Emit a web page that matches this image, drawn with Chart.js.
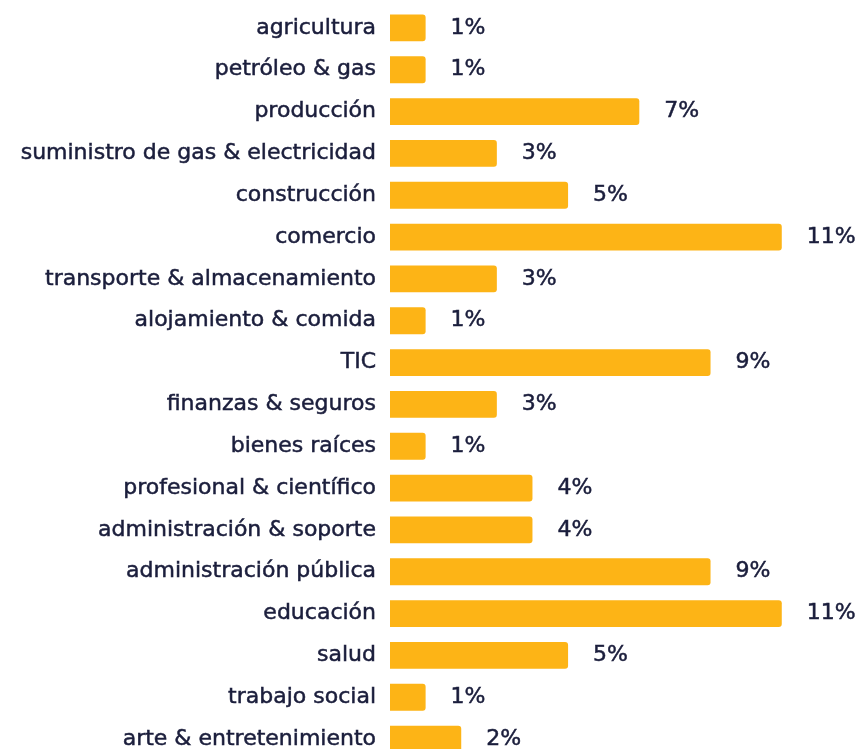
<!DOCTYPE html>
<html>
<head>
<meta charset="utf-8">
<script src="https://cdn.jsdelivr.net/npm/chart.js@4"></script>
<style>
  html, body { margin: 0; padding: 0; background: #fff; overflow: hidden; }
  #wrap { width: 866px; height: 760px; position: relative; }
</style>
</head>
<body>
<div id="wrap"><canvas id="chart"></canvas></div>
<script>
'use strict';

/*********** DATA ***********/
var sectors = [
  'agricultura', 'petróleo & gas', 'producción', 'suministro de gas & electricidad',
  'construcción', 'comercio', 'transporte & almacenamiento', 'alojamiento & comida',
  'TIC', 'finanzas & seguros', 'bienes raíces', 'profesional & científico',
  'administración & soporte', 'administración pública', 'educación', 'salud',
  'trabajo social', 'arte & entretenimiento'
];
var shares = [1, 1, 7, 3, 5, 11, 3, 1, 9, 3, 1, 4, 4, 9, 11, 5, 1, 2];

var barColor = '#fdb416';
var textColor = '#1b1e3c';
var fontFamily = '"DejaVu Sans", Verdana, sans-serif';

/*********** PLUGINS ***********/
// writes the percentage just right of each bar
var valueLabels = {
  id: 'valueLabels',
  afterDatasetsDraw: function(chart) {
    var ctx = chart.ctx;
    var meta = chart.getDatasetMeta(0);
    ctx.save();
    ctx.font = '22px ' + fontFamily;
    ctx.fillStyle = textColor;
    ctx.strokeStyle = textColor;
    ctx.lineWidth = 0.5;
    ctx.textAlign = 'left';
    ctx.textBaseline = 'middle';
    meta.data.forEach(function(bar, i) {
      var txt = shares[i] + '%';
      ctx.fillText(txt, bar.x + 25, bar.y);
      ctx.strokeText(txt, bar.x + 25, bar.y);
    });
    ctx.restore();
  }
};

/*********** CHART ***********/
Chart.defaults.font.family = fontFamily;
Chart.defaults.color = textColor;

new Chart(document.getElementById('chart').getContext('2d'), {
  type: 'bar',
  data: {
    labels: sectors,
    datasets: [{
      data: shares,
      backgroundColor: barColor,
      borderRadius: 3,
      borderSkipped: 'start',
      barPercentage: 0.64,
      categoryPercentage: 1
    }]
  },
  options: {
    indexAxis: 'y',
    responsive: true,
    maintainAspectRatio: false,
    animation: false,
    layout: { padding: { top: 7, right: 13, left: 0, bottom: 0 } },
    plugins: {
      legend: { display: false },
      tooltip: { enabled: false }
    },
    scales: {
      x: {
        display: false,
        min: 0,
        max: 13
      },
      y: {
        grid: { display: false, drawTicks: false },
        border: { display: false },
        ticks: {
          padding: 14,
          color: textColor,
          textStrokeColor: textColor,
          textStrokeWidth: 0.5,
          font: { size: 22 }
        },
        afterFit: function(scale) {
          // fixed label column, and no extra room above/below the rows
          scale.width = 390;
          scale.paddingTop = 0;
          scale.paddingBottom = 0;
        }
      }
    }
  },
  plugins: [valueLabels]
});
</script>
</body>
</html>
